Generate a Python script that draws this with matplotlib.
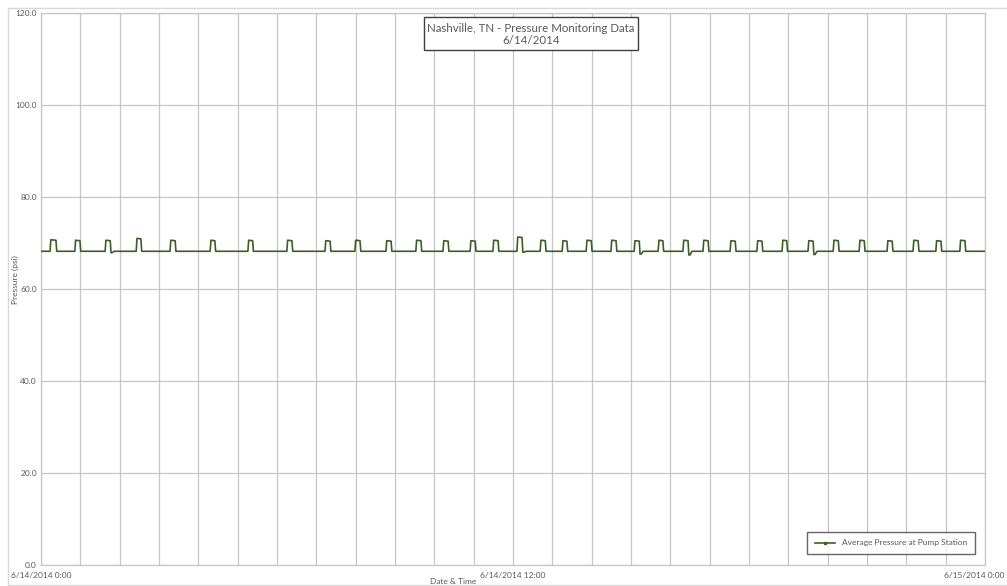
#!/usr/bin/env python3
"""
Nashville, TN pressure monitoring chart (24 h, pump station)
"""
import numpy as np
import matplotlib
matplotlib.use('Agg')
import matplotlib.pyplot as plt
from matplotlib.lines import Line2D
from matplotlib.patches import Rectangle

plt.rcParams['font.family'] = ['Lato', 'DejaVu Sans']

# pump cycles (hours after 6/14/2014 0:00)
pulse_start = [0.23, 0.86, 1.63, 2.42, 3.28, 4.30, 5.26, 6.25, 7.22, 7.98,
               8.77, 9.53, 10.22, 10.91, 11.49, 12.10, 12.69, 13.25, 13.86, 14.49,
               15.08, 15.69, 16.32, 16.83, 17.52, 18.20, 18.84, 19.50, 20.14, 20.80,
               21.51, 22.17, 22.75, 23.36]
pulse_len = [0.17, 0.15, 0.15, 0.14, 0.15, 0.14, 0.14, 0.15, 0.15, 0.15,
             0.15, 0.15, 0.15, 0.15, 0.15, 0.15, 0.15, 0.14, 0.15, 0.15,
             0.15, 0.14, 0.15, 0.15, 0.15, 0.15, 0.14, 0.15, 0.15, 0.15,
             0.15, 0.15, 0.15, 0.15]
pulse_peak = [70.7, 70.6, 70.6, 71.0, 70.6, 70.6, 70.6, 70.6, 70.5, 70.6,
              70.5, 70.6, 70.5, 70.5, 70.6, 71.3, 70.6, 70.5, 70.6, 70.6,
              70.5, 70.6, 70.6, 70.6, 70.5, 70.5, 70.6, 70.5, 70.6, 70.6,
              70.5, 70.6, 70.5, 70.6]
pulse_dip = [68.2, 68.2, 67.9, 68.2, 68.2, 68.2, 68.2, 68.2, 68.2, 68.2,
             68.2, 68.2, 68.2, 68.2, 68.2, 68.0, 68.2, 68.2, 68.2, 68.2,
             67.6, 68.2, 67.4, 68.2, 68.2, 68.2, 68.2, 67.5, 68.2, 68.2,
             68.2, 68.2, 68.2, 68.2]
baseline = 68.2

y_ticks = [0, 20, 40, 60, 80, 100, 120]
x_labels = {0: '6/14/2014 0:00', 12: '6/14/2014 12:00', 24: '6/15/2014 0:00'}

# polyline through the readings
t, p = [0.0], [baseline]
for s, d, pk, dp in zip(pulse_start, pulse_len, pulse_peak, pulse_dip):
    t += [s, s + 0.02, s + d - 0.02, s + d, s + d + 0.03, s + d + 0.08]
    p += [baseline, pk, pk - 0.1, dp, dp, baseline]
t.append(24.0)
p.append(baseline)

W, H = 1007, 586
fig = plt.figure(figsize=(W / 100, H / 100), dpi=100, facecolor='white')
ax = fig.add_axes([41 / W, 1 - 565 / H, (985 - 41) / W, (565 - 13) / H])

grid_c = '#C6C6C6'
line_c = '#3C5E29'
txt_c = '#595959'

ax.plot(t, p, '-', color=line_c, linewidth=1.2, zorder=5)

ax.set_xlim(0, 24)
ax.set_ylim(0, 120)
ax.set_xticks(range(25))
ax.set_xticklabels([x_labels.get(h, '') if h < 24 else '' for h in range(25)])
ax.set_yticks(y_ticks)
ax.set_yticklabels([f'{v:.1f}' for v in y_ticks])
ax.tick_params(length=0, labelsize=6, colors=txt_c, pad=3)
ax.tick_params(axis='x', pad=5)
ax.grid(True, color=grid_c, linewidth=0.9)
for sp in ax.spines.values():
    sp.set_color(grid_c)
    sp.set_linewidth(0.9)

# last date label, kept inside the picture edge
fig.text(1005 / W, 1 - 575 / H, x_labels[24], ha='right', va='center',
         fontsize=6, color=txt_c)

fig.text(453 / W, 1 - 582 / H, 'Date & Time', ha='center', va='center',
         fontsize=6, color=txt_c)
fig.text(15 / W, 1 - 280 / H, 'Pressure (psi)', ha='center', va='center',
         rotation=90, fontsize=6, color=txt_c)

# title box
fig.add_artist(Rectangle((424 / W, 1 - 50 / H), 214 / W, 33 / H,
                         transform=fig.transFigure, facecolor='white',
                         edgecolor='#404040', linewidth=1.0, zorder=10))
fig.text(531 / W, 1 - 28 / H, 'Nashville, TN - Pressure Monitoring Data',
         ha='center', va='center', fontsize=8.3, color=txt_c, zorder=11)
fig.text(531 / W, 1 - 41 / H, '6/14/2014', ha='center', va='center',
         fontsize=8.3, color=txt_c, zorder=11)

# chart area border
fig.add_artist(Rectangle((8 / W, 1 / H), 1.0, 1 - 9 / H,
                         transform=fig.transFigure, facecolor='none',
                         edgecolor='#D9D9D9', linewidth=1.0))

handle = Line2D([], [], color=line_c, linewidth=1.2, marker='s', markersize=1.5)
leg = fig.legend([handle], ['Average Pressure at Pump Station'],
                 loc='center', bbox_to_anchor=(891 / W, 1 - 543 / H),
                 fontsize=6, frameon=True, fancybox=False, handlelength=2.5,
                 borderpad=0.9, labelcolor=txt_c)
leg.get_frame().set_edgecolor('#404040')
leg.get_frame().set_linewidth(1.0)

fig.savefig('out.png', dpi=100, facecolor='white')
